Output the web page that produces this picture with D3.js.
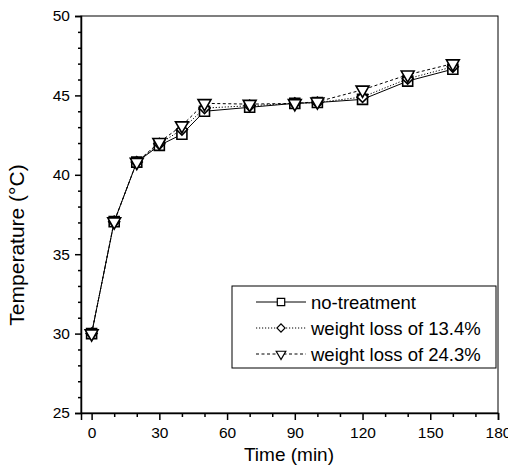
<!DOCTYPE html>
<html><head><meta charset="utf-8">
<script src="https://cdn.jsdelivr.net/npm/d3@7"></script>
<style>body{margin:0;background:#fff}svg{display:block;font-family:"Liberation Sans",Arial,sans-serif}</style>
</head><body><svg id="c" width="508" height="465"></svg>
<script>
const times = [0, 10, 20, 30, 40, 50, 70, 90, 100, 120, 140, 160];
const noTreatment = [30, 37.05, 40.8, 41.85, 42.55, 44.0, 44.25, 44.5, 44.55, 44.75, 45.9, 46.65];
const loss134 = [30, 37.05, 40.8, 41.95, 42.85, 44.2, 44.35, 44.5, 44.55, 44.9, 46.05, 46.8];
const loss243 = [30, 37.05, 40.8, 42.05, 43.1, 44.5, 44.45, 44.5, 44.6, 45.35, 46.3, 47.0];
const seriesNames = ["no-treatment", "weight loss of 13.4%", "weight loss of 24.3%"];
const xTicks = [0, 30, 60, 90, 120, 150, 180];
const yTicks = [25, 30, 35, 40, 45, 50];

const svg = d3.select("#c");
const L = 81, R = 498, T = 16, B = 413;
const x = d3.scaleLinear().domain([-4.7, 180]).range([L, R]);
const y = d3.scaleLinear().domain([25, 50]).range([B, T]);

// frame
svg.append("rect").attr("x", L).attr("y", T).attr("width", R - L).attr("height", B - T)
  .attr("fill", "none").attr("stroke", "#000").attr("stroke-width", 1);

// axes
svg.append("g").attr("transform", `translate(0,${B})`)
  .call(d3.axisBottom(x).tickValues(xTicks).tickSize(7).tickPadding(7).tickFormat(d3.format("d")));
svg.append("g").attr("transform", `translate(0,${B})`)
  .call(d3.axisBottom(x).tickValues(d3.range(10, 180, 10).filter(v => v % 30 !== 0)).tickSize(4).tickFormat(""))
  .call(g => g.select(".domain").remove());
svg.append("g").attr("transform", `translate(${L},0)`)
  .call(d3.axisLeft(y).tickValues(yTicks).tickSize(6).tickPadding(5).tickFormat(d3.format("d")));
svg.append("g").attr("transform", `translate(${L},0)`)
  .call(d3.axisLeft(y).tickValues(d3.range(26, 50, 1).filter(v => v % 5 !== 0)).tickSize(3).tickFormat(""))
  .call(g => g.select(".domain").remove());
svg.selectAll(".tick text").attr("font-size", 15.5).attr("font-family", '"Liberation Sans",Arial,sans-serif').attr("fill", "#000");
svg.selectAll(".tick line").attr("stroke-width", 1.5);
svg.selectAll(".domain").attr("stroke-width", 1.5);

// titles
svg.append("text").attr("x", 289).attr("y", 461).attr("text-anchor", "middle")
  .attr("font-size", 19).text("Time (min)");
svg.append("text").attr("transform", "translate(24,245) rotate(-90)").attr("text-anchor", "middle")
  .attr("font-size", 21).text("Temperature (°C)");

const dashes = [null, "1.2,1.8", "3,2.5"];
const symbols = [d3.symbolSquare, d3.symbolSquare, d3.symbolTriangle];
const sizes = [100, 60, 72];
const rot = [0, 45, 180];
const all = [noTreatment, loss134, loss243];
const line = d3.line().x(d => x(d[0])).y(d => y(d[1]));

all.forEach((vals, i) => {
  const pts = times.map((t, k) => [t, vals[k]]);
  svg.append("path").attr("d", line(pts)).attr("fill", "none").attr("stroke", "#000")
    .attr("stroke-width", 1).attr("stroke-dasharray", dashes[i]);
});
all.forEach((vals, i) => {
  svg.append("g").selectAll("path").data(times.map((t, k) => [t, vals[k]])).join("path")
    .attr("d", d3.symbol().type(symbols[i]).size(sizes[i])())
    .attr("transform", d => `translate(${x(d[0])},${y(d[1])}) rotate(${rot[i]})`)
    .attr("fill", "#fff").attr("stroke", "#000").attr("stroke-width", 1.6);
});

// legend
const lg = svg.append("g");
lg.append("rect").attr("x", 232).attr("y", 286).attr("width", 264).attr("height", 82)
  .attr("fill", "#fff").attr("stroke", "#000").attr("stroke-width", 1);
const rows = [302, 328, 354];
seriesNames.forEach((n, i) => {
  lg.append("line").attr("x1", 256).attr("x2", 306).attr("y1", rows[i]).attr("y2", rows[i])
    .attr("stroke", "#000").attr("stroke-width", 1).attr("stroke-dasharray", dashes[i]);
  lg.append("path").attr("d", d3.symbol().type(symbols[i]).size(sizes[i] * 0.55)())
    .attr("transform", `translate(281,${rows[i]}) rotate(${rot[i]})`)
    .attr("fill", "#fff").attr("stroke", "#000").attr("stroke-width", 1.2);
  lg.append("text").attr("x", 311).attr("y", rows[i] + 6.5).attr("font-size", 18.5).text(n);
});
</script></body></html>
